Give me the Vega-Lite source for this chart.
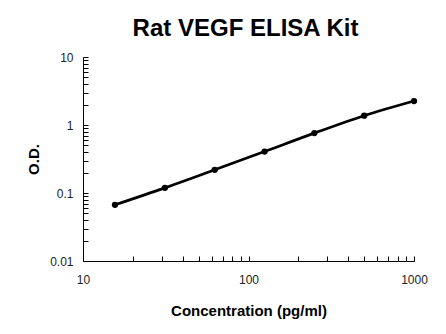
{
  "$schema": "https://vega.github.io/schema/vega-lite/v6.json",
  "autosize": "none",
  "width": 331,
  "height": 204,
  "padding": {"left": 83, "top": 57, "right": 32, "bottom": 73},
  "background": "white",
  "title": {
    "text": "Rat VEGF ELISA Kit",
    "font": "Liberation Sans",
    "fontSize": 24,
    "fontWeight": "bold",
    "color": "black",
    "anchor": "middle",
    "baseline": "alphabetic",
    "offset": -9,
    "dx": -3
  },
  "config": {
    "view": {"stroke": null},
    "axis": {
      "grid": false,
      "domainColor": "black",
      "tickColor": "black",
      "labelFont": "Liberation Sans",
      "labelFontSize": 12,
      "labelColor": "#222",
      "labelFlush": false,
      "titleFont": "Liberation Sans",
      "titleFontSize": 15,
      "titleFontWeight": "bold",
      "titleColor": "black"
    }
  },
  "data": {
    "values": [
      {"conc": 15.6, "od": 0.067},
      {"conc": 31.25, "od": 0.119},
      {"conc": 62.5, "od": 0.219},
      {"conc": 125, "od": 0.407},
      {"conc": 250, "od": 0.76},
      {"conc": 500, "od": 1.37},
      {"conc": 1000, "od": 2.25}
    ]
  },
  "encoding": {
    "x": {
      "field": "conc",
      "type": "quantitative",
      "scale": {"type": "log", "domain": [10, 1000], "nice": false},
      "axis": {
        "title": "Concentration (pg/ml)",
        "values": [10, 20, 30, 40, 50, 60, 70, 80, 90, 100, 200, 300, 400, 500, 600, 700, 800, 900, 1000],
        "format": "~g",
        "labelExpr": "indexof([10,100,1000], datum.value) >= 0 ? datum.label : ''",
        "tickSize": -5,
        "labelPadding": 18,
        "titlePadding": 18
      }
    },
    "y": {
      "field": "od",
      "type": "quantitative",
      "scale": {"type": "log", "domain": [0.01, 10], "nice": false},
      "axis": {
        "title": "O.D.",
        "values": [0.01, 0.02, 0.03, 0.04, 0.05, 0.06, 0.07, 0.08, 0.09, 0.1, 0.2, 0.3, 0.4, 0.5, 0.6, 0.7, 0.8, 0.9, 1, 2, 3, 4, 5, 6, 7, 8, 9, 10],
        "format": "~g",
        "labelExpr": "indexof([0.01,0.1,1,10], datum.value) >= 0 ? datum.label : ''",
        "tickSize": -5,
        "labelPadding": 15,
        "titlePadding": 8
      }
    }
  },
  "layer": [
    {"mark": {"type": "line", "color": "black", "strokeWidth": 2.7, "interpolate": "monotone"}},
    {"mark": {"type": "point", "filled": true, "color": "black", "opacity": 1, "size": 40}}
  ]
}
